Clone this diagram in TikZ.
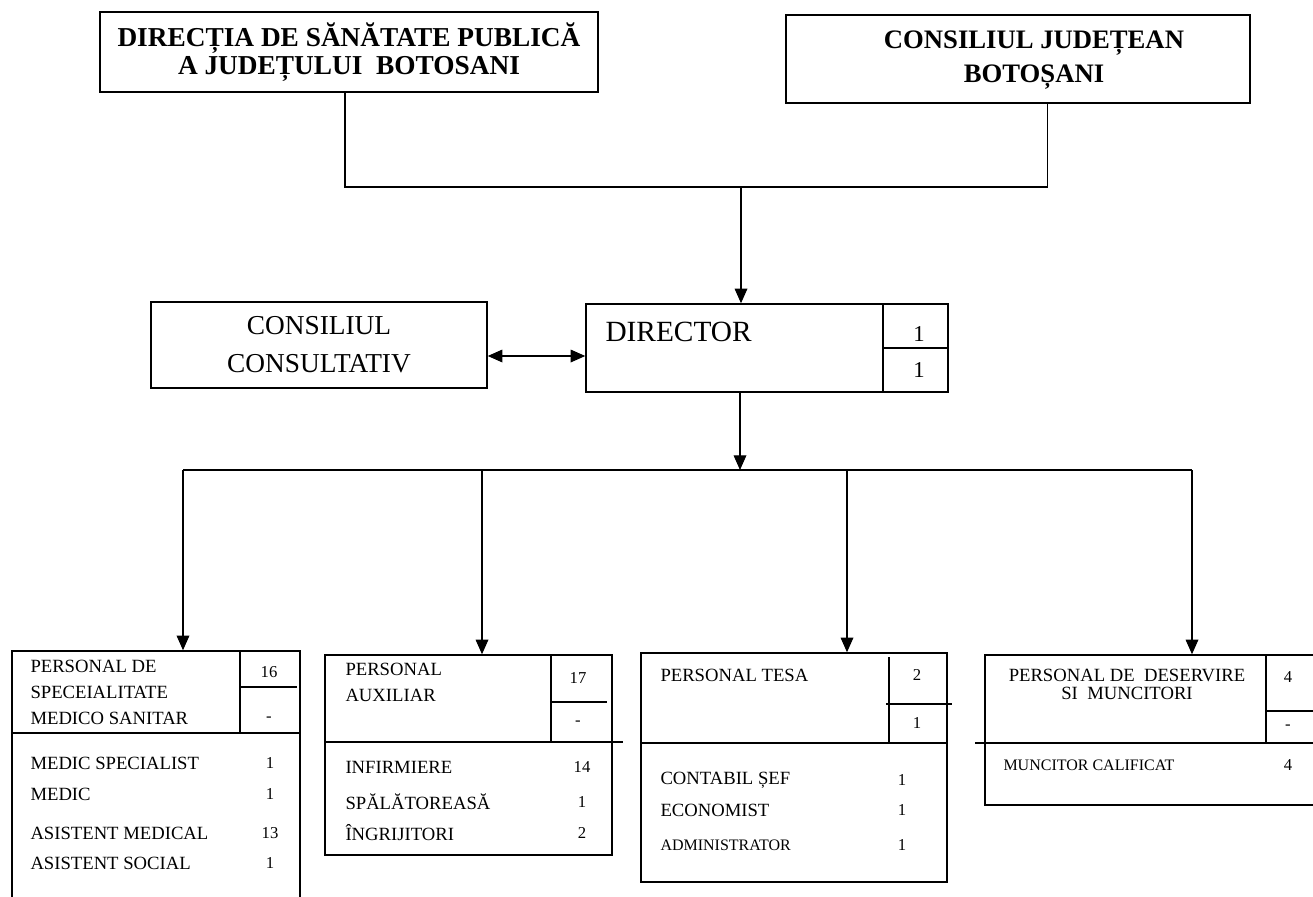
\documentclass[tikz,border=0pt]{standalone}
\usepackage{fontspec}
\setmainfont{Liberation Serif}
\usetikzlibrary{arrows.meta}

\tikzset{every picture/.style={line width=0.75pt}}
\tikzset{
  box/.style={draw, line width=1.1pt, inner sep=0pt},
  inner/.style={line width=1.1pt},
  wire/.style={line width=0.95pt},
  arr/.style={wire, -{Triangle[length=11pt,width=9.5pt]}},
  dblarr/.style={wire, {Triangle[length=11pt,width=9.5pt]}-{Triangle[length=11pt,width=9.5pt]}},
  hdr/.style={inner sep=0pt, anchor=north west, align=left, font=\fontsize{14}{19.5}\selectfont},
  item/.style={inner sep=0pt, anchor=west, font=\fontsize{14}{16}\selectfont},
  smallitem/.style={inner sep=0pt, anchor=west, font=\fontsize{12}{14}\selectfont},
  num/.style={inner sep=0pt, font=\fontsize{12.5}{14}\selectfont},
}

\begin{document}
\begin{tikzpicture}[x=0.75pt,y=0.75pt,yscale=-1,xscale=1]
\useasboundingbox (0,0) rectangle (1313,896);

%Top boxes
\node[box, minimum width=373.5pt, minimum height=60pt, align=center, font=\bfseries\fontsize{20.5}{21}\selectfont] (dsp) at (349,52) {DIRECȚIA DE SĂNĂTATE PUBLICĂ\\A JUDEȚULUI\ \ BOTOSANI};
\node[box, minimum width=348pt, minimum height=66pt] (cj) at (1018,59) {};
\node[inner sep=0pt, align=center, font=\bfseries\fontsize{20}{25}\selectfont] (cjtxt) at (1034,60) {CONSILIUL JUDEȚEAN\\BOTOȘANI};

%Middle row
\node[box, minimum width=252pt, minimum height=64.5pt, align=center, font=\fontsize{20.5}{28.5}\selectfont] (cons) at (319,345) {CONSILIUL\\CONSULTATIV};
\node[box, minimum width=271.5pt, minimum height=66pt] (dir) at (767,348) {};
\node[inner sep=0pt, anchor=west, font=\fontsize{22}{24}\selectfont] (dirtxt) at (605,332) {DIRECTOR};
\draw[inner] (883,304) -- (883,392);
\draw[inner] (883,348) -- (948,348);
\node[inner sep=0pt, font=\fontsize{17}{18}\selectfont] (dirn1) at (919,334) {1};
\node[inner sep=0pt, font=\fontsize{17}{18}\selectfont] (dirn2) at (919,370) {1};

%Personal de specialitate
\node[box, minimum width=216pt, minimum height=194.25pt] (pms) at (156,780.5) {};
\draw[inner] (12,733) -- (300,733);
\draw[inner] (240,651) -- (240,733);
\draw[inner] (240,687) -- (297,687);
\node[hdr] (pmshdr) at (30,660) {PERSONAL DE\\SPECEIALITATE\\MEDICO SANITAR};
\node[num] (pmsn1) at (269,672) {16};
\node[num] (pmsn2) at (269,719) {-};
\node[item] (pms1) at (30,763) {MEDIC SPECIALIST};
\node[num] (pms1n) at (270,763) {1};
\node[item] (pms2) at (30,794) {MEDIC};
\node[num] (pms2n) at (270,794) {1};
\node[item] (pms3) at (30,833) {ASISTENT MEDICAL};
\node[num] (pms3n) at (270,833) {13};
\node[item] (pms4) at (30,863) {ASISTENT SOCIAL};
\node[num] (pms4n) at (270,863) {1};

%Personal auxiliar
\node[box, minimum width=215.25pt, minimum height=150pt] (paux) at (468.5,755) {};
\draw[inner] (325,742) -- (623,742);
\draw[inner] (551,655) -- (551,742);
\draw[inner] (551,702) -- (607,702);
\node[hdr] (pauxhdr) at (345,663) {PERSONAL\\AUXILIAR};
\node[num] (pauxn1) at (578,678) {17};
\node[num] (pauxn2) at (578,723) {-};
\node[item] (paux1) at (345,767) {INFIRMIERE};
\node[num] (paux1n) at (582,767) {14};
\node[item] (paux2) at (345,802) {SPĂLĂTOREASĂ};
\node[num] (paux2n) at (582,802) {1};
\node[item] (paux3) at (345,833) {ÎNGRIJITORI};
\node[num] (paux3n) at (582,833) {2};

%Personal TESA
\node[box, minimum width=229.5pt, minimum height=171.75pt] (ptesa) at (794,767.5) {};
\draw[inner] (641,743) -- (947,743);
\draw[inner] (889,657) -- (889,743);
\draw[inner] (886,704) -- (952,704);
\node[item] (ptesahdr) at (660,675) {PERSONAL TESA};
\node[num] (ptesan1) at (917,675) {2};
\node[num] (ptesan2) at (917,723) {1};
\node[item] (ptesa1) at (660,780) {CONTABIL ȘEF};
\node[num] (ptesa1n) at (902,780) {1};
\node[item] (ptesa2) at (660,810) {ECONOMIST};
\node[num] (ptesa2n) at (902,810) {1};
\node[smallitem] (ptesa3) at (660,845) {ADMINISTRATOR};
\node[num] (ptesa3n) at (902,845) {1};

%Personal de deservire
\node[box, minimum width=251.25pt, minimum height=112.5pt] (pdes) at (1152.5,730) {};
\draw[inner] (975,743) -- (1313,743);
\draw[inner] (1266,655) -- (1266,743);
\draw[inner] (1266,711) -- (1313,711);
\node[inner sep=0pt, align=center, font=\fontsize{14}{13.5}\selectfont] (pdeshdr) at (1127,684) {PERSONAL DE\ \ DESERVIRE\\SI\ \ MUNCITORI};
\node[num] (pdesn1) at (1288,677) {4};
\node[num] (pdesn2) at (1288,727) {-};
\node[smallitem] (pdes1) at (1003,765) {MUNCITOR CALIFICAT};
\node[num] (pdes1n) at (1288,765) {4};

%Connectors
\coordinate (bus1) at (741,187);
\draw[wire] ([xshift=-3pt]dsp.south) |- (bus1) -| ([xshift=22pt]cj.south);
\draw[arr] (bus1) -- (bus1 |- dir.north);
\draw[dblarr] (cons.east |- 0,356) -- (dir.west |- 0,356);

\coordinate (bus2) at (740,470);
\draw[arr] (bus2 |- dir.south) -- (bus2);
\coordinate (b1) at (183,470);
\coordinate (b2) at (482,470);
\coordinate (b3) at (847,470);
\coordinate (b4) at (1192,470);
\draw[wire] (b1) -- (b4);
\draw[arr] (b1) -- (b1 |- pms.north);
\draw[arr] (b2) -- (b2 |- paux.north);
\draw[arr] (b3) -- (b3 |- ptesa.north);
\draw[arr] (b4) -- (b4 |- pdes.north);

\end{tikzpicture}
\end{document}
